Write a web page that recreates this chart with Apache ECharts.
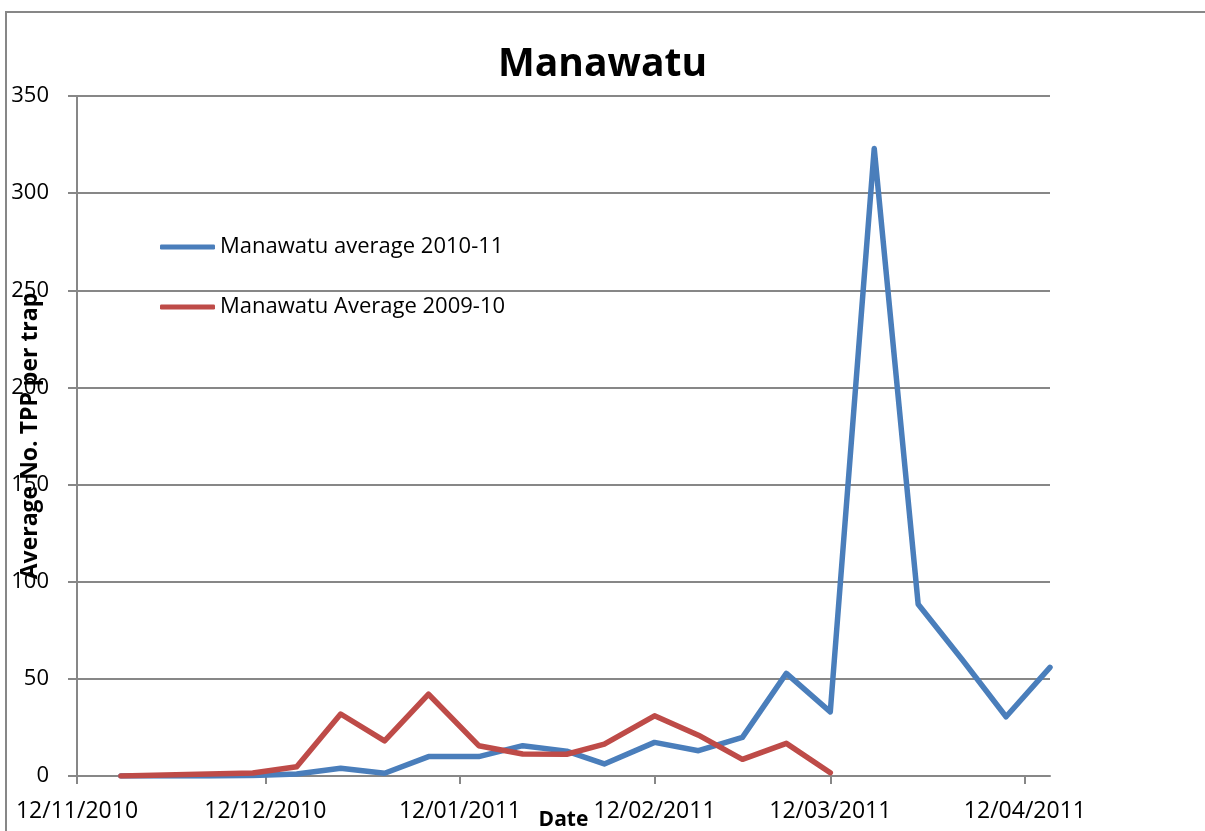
<!DOCTYPE html>
<html>
<head>
<meta charset="utf-8">
<script src="https://cdn.jsdelivr.net/npm/echarts@6/dist/echarts.min.js"></script>
<style>
  html, body { margin: 0; padding: 0; background: #fff; }
  #chart { width: 1205px; height: 831px; }
</style>
</head>
<body>
<div id="chart"></div>
<script>
// sampling dates
var dates2010 = ['2010-11-19', '2010-11-26', '2010-12-03', '2010-12-10', '2010-12-17', '2010-12-24',
  '2010-12-31', '2011-01-07', '2011-01-15', '2011-01-22', '2011-01-29', '2011-02-04', '2011-02-12',
  '2011-02-19', '2011-02-26', '2011-03-05', '2011-03-12', '2011-03-19', '2011-03-26', '2011-04-02',
  '2011-04-09', '2011-04-16'];
var values2010 = [0, 0, 0, 0.2, 1, 4, 1.4, 10, 10, 15.6, 12.8, 6.2, 17.3, 13, 19.9, 52.8, 33, 323, 88.4, 60, 30.5, 55.9];

var dates2009 = dates2010.slice(0, 17);
var values2009 = [0, 0.5, 1, 1.5, 4.8, 31.9, 18.1, 42.1, 15.6, 11.3, 11.2, 16.4, 31, 21, 8.6, 16.8, 1.7];

var tickDates = ['2010-11-12', '2010-12-12', '2011-01-12', '2011-02-12', '2011-03-12', '2011-04-12'];
var axisMinDate = '2010-11-12';
var axisMaxDate = '2011-04-16';

function ts(s) {
  var p = s.split('-');
  return Date.UTC(+p[0], +p[1] - 1, +p[2]);
}
function pad(n) { return n < 10 ? '0' + n : '' + n; }
function fmt(v) {
  var d = new Date(v);
  return pad(d.getUTCDate()) + '/' + pad(d.getUTCMonth() + 1) + '/' + d.getUTCFullYear();
}
function pairs(ds, vs) {
  return ds.map(function (d, i) { return [ts(d), vs[i]]; });
}

var gridColor = '#878787';
var font = 'Open Sans';

var chart = echarts.init(document.getElementById('chart'), null, { renderer: 'canvas' });
chart.setOption({
  animation: false,
  backgroundColor: '#fff',
  title: {
    text: 'Manawatu',
    left: 'center',
    top: 40,
    textStyle: { fontFamily: font, fontWeight: 'bold', fontSize: 39, color: '#000' }
  },
  graphic: [{
    type: 'rect',
    shape: { x: 6, y: 12, width: 1400, height: 1000 },
    style: { fill: 'none', stroke: gridColor, lineWidth: 2 },
    silent: true
  }],
  legend: {
    orient: 'vertical',
    left: 155,
    top: 231,
    icon: 'roundRect',
    itemWidth: 55,
    itemHeight: 5,
    itemGap: 38,
    textStyle: { fontFamily: font, fontSize: 22, color: '#000' },
    data: ['Manawatu average 2010-11', 'Manawatu Average 2009-10']
  },
  grid: { left: 77, right: 155, top: 96, bottom: 55, containLabel: false, outerBoundsMode: 'none' },
  xAxis: {
    type: 'value',
    min: ts(axisMinDate),
    max: ts(axisMaxDate),
    name: 'Date',
    nameLocation: 'middle',
    nameGap: 34,
    nameMoveOverlap: false,
    nameTextStyle: { fontFamily: font, fontWeight: 'bold', fontSize: 21, color: '#000' },
    axisLine: { lineStyle: { color: gridColor, width: 2 } },
    axisTick: { show: true, length: 8, lineStyle: { color: gridColor, width: 2 }, customValues: tickDates.map(ts) },
    axisLabel: {
      customValues: tickDates.map(ts),
      formatter: fmt,
      margin: 24,
      hideOverlap: false,
      fontFamily: font, fontSize: 23, color: '#000'
    },
    splitLine: { show: false }
  },
  yAxis: {
    type: 'value',
    min: 0,
    max: 350,
    interval: 50,
    name: 'Average No. TPP per trap',
    nameLocation: 'middle',
    nameGap: 35,
    nameRotate: 90,
    nameMoveOverlap: false,
    nameTextStyle: { fontFamily: font, fontWeight: 'bold', fontSize: 23, color: '#000' },
    axisLine: { show: true, lineStyle: { color: gridColor, width: 2 } },
    axisTick: { show: true, length: 9, lineStyle: { color: gridColor, width: 2 } },
    axisLabel: { margin: 28, fontFamily: font, fontSize: 22, color: '#000' },
    splitLine: { lineStyle: { color: gridColor, width: 2 } }
  },
  series: [
    {
      name: 'Manawatu average 2010-11',
      type: 'line',
      symbol: 'none',
      color: '#4A7EBB',
      lineStyle: { width: 5.5, cap: 'round', join: 'round' },
      data: pairs(dates2010, values2010)
    },
    {
      name: 'Manawatu Average 2009-10',
      type: 'line',
      symbol: 'none',
      color: '#BE4B48',
      lineStyle: { width: 5.5, cap: 'round', join: 'round' },
      data: pairs(dates2009, values2009)
    }
  ]
});
</script>
</body>
</html>
